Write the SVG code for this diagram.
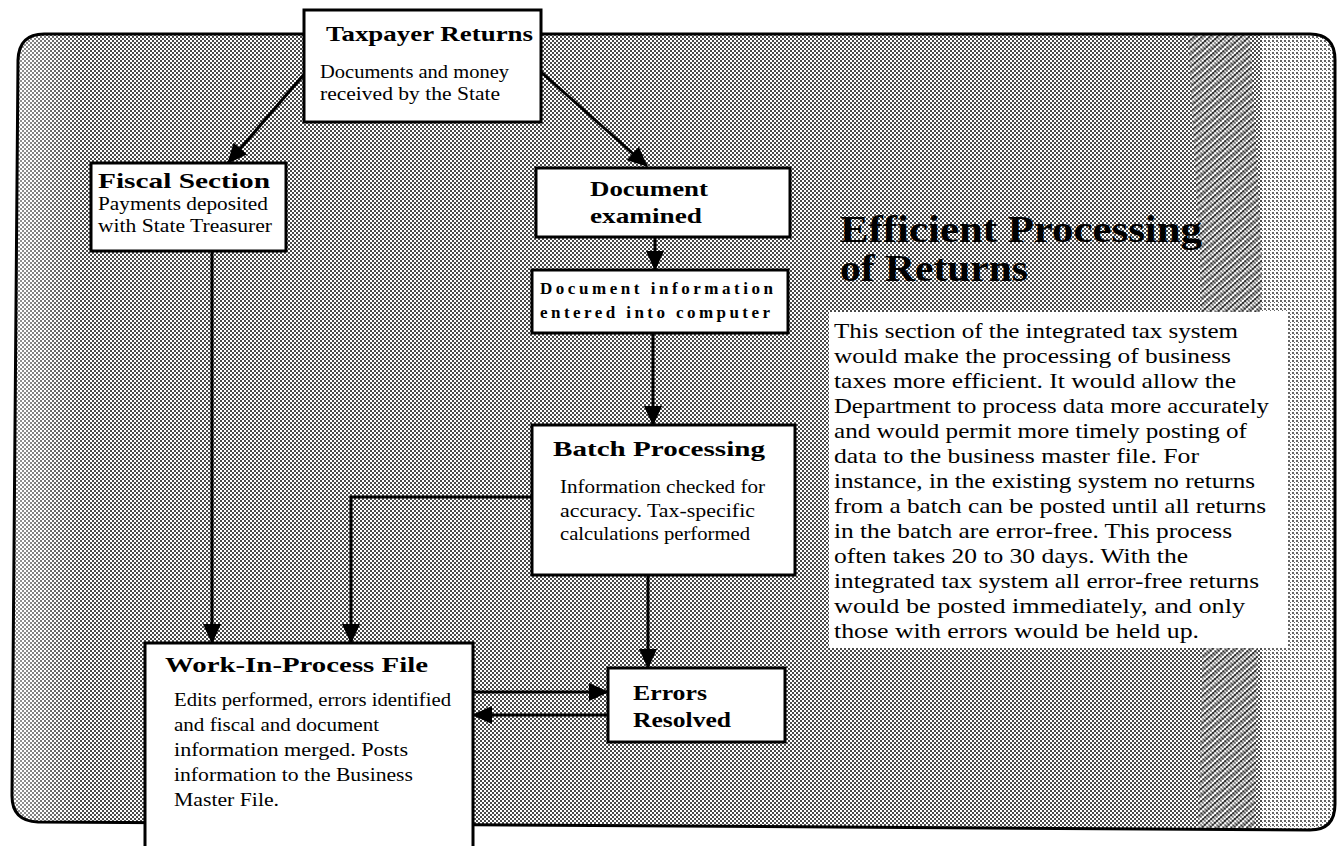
<svg xmlns="http://www.w3.org/2000/svg" width="1339" height="846" viewBox="0 0 1339 846">
<defs>
<pattern id="ht" width="4" height="4" patternUnits="userSpaceOnUse"><rect width="4" height="4" fill="#fff"/><rect width="2" height="2" fill="#4a4a4a"/><rect x="2" y="2" width="2" height="2" fill="#4a4a4a"/></pattern>
<pattern id="hatch" width="5" height="5" patternUnits="userSpaceOnUse" patternTransform="rotate(-40)"><rect width="5" height="5" fill="#fff"/><rect width="5" height="2.4" fill="#111"/></pattern>
<pattern id="sparse" width="4" height="4" patternUnits="userSpaceOnUse"><rect width="4" height="4" fill="#fff"/><rect width="2" height="2" fill="#666"/><rect x="2" y="2" width="1" height="1" fill="#666"/></pattern>
<linearGradient id="lfade" x1="0" y1="0" x2="1" y2="0"><stop offset="0" stop-color="#fff" stop-opacity="0.45"/><stop offset="1" stop-color="#fff" stop-opacity="0"/></linearGradient>
<marker id="ah" viewBox="0 0 20 18" refX="19" refY="9" markerWidth="20" markerHeight="18" markerUnits="userSpaceOnUse" orient="auto"><path d="M0,0 L20,9 L0,18 Z" fill="#000"/></marker>
</defs>
<style>
.box{fill:#fff;stroke:#000;stroke-width:3}
.hd{font-family:"Liberation Serif",serif;font-weight:bold;fill:#000}
.bd{font-family:"Liberation Serif",serif;fill:#000}
.cn{stroke:#000;stroke-width:3;fill:none;marker-end:url(#ah)}
</style>
<rect width="1339" height="846" fill="#fff"/>
<g id="frame">
<path d="M44,34 L1310,34 Q1335,34 1335,60 L1335,804 Q1335,830 1310,830 L38,822 Q12,821 12,796 L18,60 Q19,34 44,34 Z" fill="url(#ht)"/>
<rect x="12" y="36" width="70" height="785" fill="url(#lfade)"/>
<path d="M1262,35 L1310,35 Q1334,35 1334,60 L1334,804 Q1334,829 1310,829 L1262,829 Z" fill="url(#sparse)"/>
<path d="M1188,35 L1250,35 L1262,260 L1255,829 L1198,829 L1205,560 L1200,260 Z" fill="url(#hatch)" opacity="0.45"/>
<path d="M44,34 L1310,34 Q1335,34 1335,60 L1335,804 Q1335,830 1310,830 L38,822 Q12,821 12,796 L18,60 Q19,34 44,34 Z" fill="none" stroke="#000" stroke-width="3"/>
</g>
<g id="connectors">
<line class="cn" x1="306" y1="72" x2="228" y2="163"/>
<line class="cn" x1="541" y1="72" x2="647" y2="166"/>
<line class="cn" x1="655" y1="237" x2="655" y2="270"/>
<line class="cn" x1="653" y1="333" x2="653" y2="425"/>
<line class="cn" x1="212" y1="252" x2="212" y2="643"/>
<polyline class="cn" points="532,497 351,497 351,643"/>
<line class="cn" x1="648" y1="575" x2="648" y2="668"/>
<line class="cn" x1="473" y1="692" x2="608" y2="692"/>
<line class="cn" x1="608" y1="715" x2="473" y2="715"/>
</g>
<g id="taxpayer">
<rect class="box" x="304" y="10" width="237" height="112"/>
<text class="hd" x="326" y="41" font-size="22" textLength="207" lengthAdjust="spacingAndGlyphs">Taxpayer Returns</text>
<text class="bd" x="320" y="78" font-size="19" textLength="189" lengthAdjust="spacingAndGlyphs">Documents and money</text>
<text class="bd" x="320" y="100" font-size="19" textLength="180" lengthAdjust="spacingAndGlyphs">received by the State</text>
</g>
<g id="fiscal">
<rect class="box" x="91" y="163" width="195" height="88"/>
<text class="hd" x="98" y="188" font-size="22" textLength="172" lengthAdjust="spacingAndGlyphs">Fiscal Section</text>
<text class="bd" x="98" y="210" font-size="19" textLength="170" lengthAdjust="spacingAndGlyphs">Payments deposited</text>
<text class="bd" x="98" y="232" font-size="19" textLength="174" lengthAdjust="spacingAndGlyphs">with State Treasurer</text>
</g>
<g id="docexam">
<rect class="box" x="536" y="168" width="254" height="69"/>
<text class="hd" x="590" y="196" font-size="22" textLength="118" lengthAdjust="spacingAndGlyphs">Document</text>
<text class="hd" x="590" y="223" font-size="22" textLength="112" lengthAdjust="spacingAndGlyphs">examined</text>
</g>
<g id="docinfo">
<rect class="box" x="532" y="270" width="256" height="63"/>
<text class="hd" x="540" y="294" font-size="17" textLength="233" lengthAdjust="spacing">Document information</text>
<text class="hd" x="540" y="318" font-size="17" textLength="230" lengthAdjust="spacing">entered into computer</text>
</g>
<g id="batch">
<rect class="box" x="532" y="425" width="263" height="150"/>
<text class="hd" x="553" y="456" font-size="22" textLength="212" lengthAdjust="spacingAndGlyphs">Batch Processing</text>
<text class="bd" x="560" y="493" font-size="19" textLength="205" lengthAdjust="spacingAndGlyphs">Information checked for</text>
<text class="bd" x="560" y="517" font-size="19" textLength="195" lengthAdjust="spacingAndGlyphs">accuracy.  Tax-specific</text>
<text class="bd" x="560" y="540" font-size="19" textLength="190" lengthAdjust="spacingAndGlyphs">calculations performed</text>
</g>
<g id="wip">
<rect class="box" x="145" y="643" width="328" height="210"/>
<text class="hd" x="165" y="672" font-size="22" textLength="263" lengthAdjust="spacingAndGlyphs">Work-In-Process File</text>
<text class="bd" x="174" y="706" font-size="19" textLength="277" lengthAdjust="spacingAndGlyphs">Edits performed, errors identified</text>
<text class="bd" x="174" y="731" font-size="19" textLength="205" lengthAdjust="spacingAndGlyphs">and fiscal and document</text>
<text class="bd" x="174" y="756" font-size="19" textLength="234" lengthAdjust="spacingAndGlyphs">information merged.  Posts</text>
<text class="bd" x="174" y="781" font-size="19" textLength="239" lengthAdjust="spacingAndGlyphs">information to the Business</text>
<text class="bd" x="174" y="806" font-size="19" textLength="105" lengthAdjust="spacingAndGlyphs">Master File.</text>
</g>
<g id="errors">
<rect class="box" x="608" y="668" width="177" height="74"/>
<text class="hd" x="633" y="700" font-size="22" textLength="74" lengthAdjust="spacingAndGlyphs">Errors</text>
<text class="hd" x="633" y="727" font-size="22" textLength="98" lengthAdjust="spacingAndGlyphs">Resolved</text>
</g>
<g id="title">
<text class="hd" x="840" y="242" font-size="38" textLength="362" lengthAdjust="spacingAndGlyphs">Efficient Processing</text>
<text class="hd" x="840" y="281" font-size="38" textLength="188" lengthAdjust="spacingAndGlyphs">of Returns</text>
</g>
<g id="description">
<rect x="829" y="312" width="459" height="336" fill="#fff"/>
<g class="bd" font-size="22">
<text x="834" y="338" textLength="404" lengthAdjust="spacingAndGlyphs">This section of the integrated tax system</text>
<text x="834" y="363" textLength="397" lengthAdjust="spacingAndGlyphs">would make the processing of business</text>
<text x="834" y="388" textLength="402" lengthAdjust="spacingAndGlyphs">taxes more efficient.  It would allow the</text>
<text x="834" y="413" textLength="435" lengthAdjust="spacingAndGlyphs">Department to process data more accurately</text>
<text x="834" y="438" textLength="413" lengthAdjust="spacingAndGlyphs">and would permit more timely posting of</text>
<text x="834" y="463" textLength="365" lengthAdjust="spacingAndGlyphs">data to the business master file.  For</text>
<text x="834" y="488" textLength="421" lengthAdjust="spacingAndGlyphs">instance, in the existing system no returns</text>
<text x="834" y="513" textLength="432" lengthAdjust="spacingAndGlyphs">from a batch can be posted until all  returns</text>
<text x="834" y="538" textLength="398" lengthAdjust="spacingAndGlyphs">in the batch are error-free. This process</text>
<text x="834" y="563" textLength="354" lengthAdjust="spacingAndGlyphs">often takes 20 to 30 days.  With the</text>
<text x="834" y="588" textLength="425" lengthAdjust="spacingAndGlyphs">integrated tax system all error-free returns</text>
<text x="834" y="613" textLength="411" lengthAdjust="spacingAndGlyphs">would be posted immediately, and only</text>
<text x="834" y="638" textLength="365" lengthAdjust="spacingAndGlyphs">those with errors would be held up.</text>
</g>
</g>
</svg>
